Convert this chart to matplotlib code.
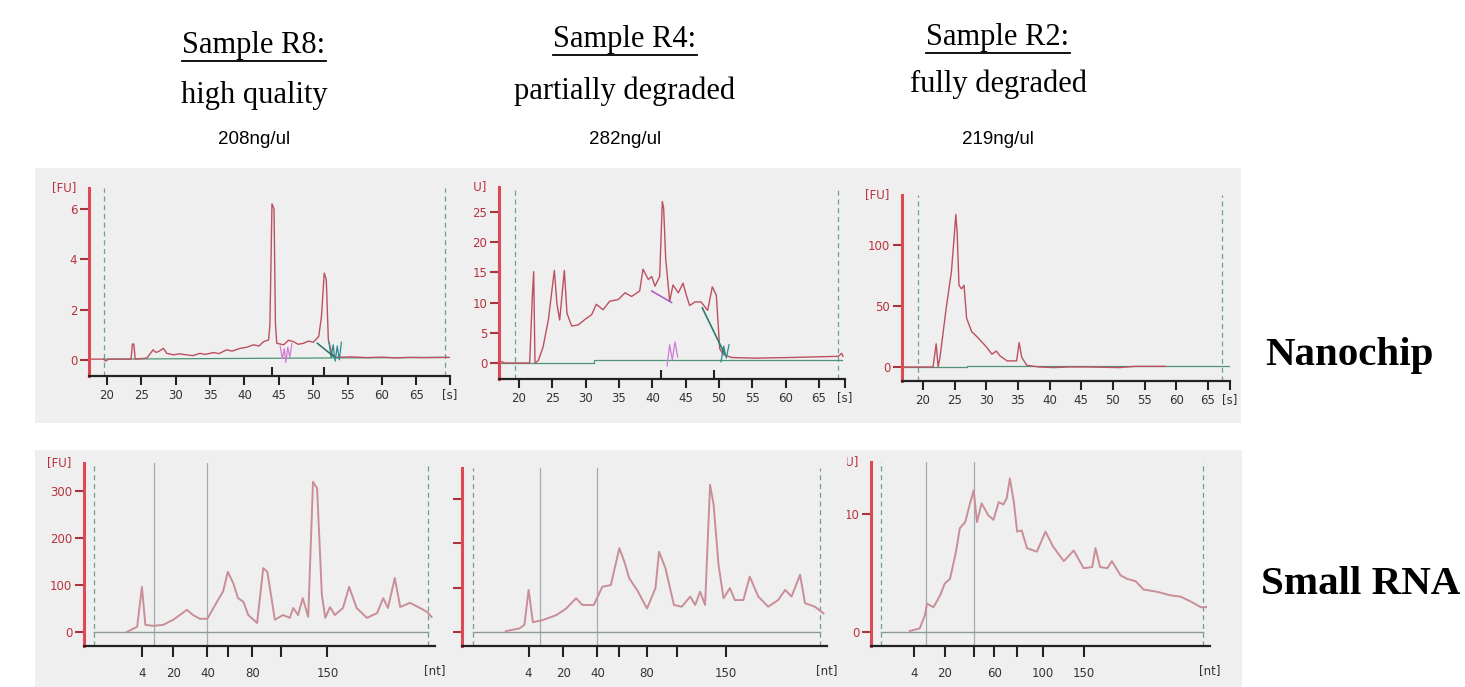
import matplotlib.pyplot as plt
from matplotlib.lines import Line2D

W, H = 1465, 687

# ---------------- data ----------------
samples = ["Sample R8:", "Sample R4:", "Sample R2:"]
quality = ["high quality", "partially degraded", "fully degraded"]
conc = ["208ng/ul", "282ng/ul", "219ng/ul"]
rows = ["Nanochip", "Small RNA"]

# Nanochip traces: migration time [s] vs fluorescence [FU]
r8_nano_t = [17.4, 19.5, 19.8, 20.2, 23.5, 23.7, 23.9, 24.1, 25.8, 26.7, 27.1, 27.5, 28.2, 28.7,
             29.7, 30.5, 31.6, 32.5, 33.5, 34.3, 35.5, 36.3, 37.4, 38.2, 39.4, 40.3, 41.3, 42.1,
             42.8, 43.5, 43.7, 44.0, 44.3, 44.5, 44.7, 45.7, 46.4, 47.1, 47.8, 48.6, 49.3, 50.0,
             50.8, 51.2, 51.6, 51.9, 52.2, 52.7, 53.2, 55.5, 57.8, 60.0, 62.0, 64.0, 66.0, 69.8]
r8_nano_fu = [0.03, 0.03, -0.05, 0.03, 0.03, 0.63, 0.63, 0.03, 0.07, 0.40, 0.30, 0.33, 0.46, 0.26,
              0.20, 0.24, 0.20, 0.17, 0.26, 0.22, 0.29, 0.25, 0.40, 0.35, 0.46, 0.50, 0.60, 0.55,
              0.73, 0.79, 1.39, 6.20, 6.00, 1.45, 0.66, 0.60, 0.78, 0.73, 0.62, 0.66, 0.75, 0.70,
              0.93, 1.72, 3.45, 3.20, 0.80, 0.26, 0.10, 0.12, 0.09, 0.11, 0.08, 0.10, 0.09, 0.10]

r4_nano_t = [17.4, 17.9, 21.6, 22.0, 22.2, 22.4, 22.9, 23.6, 24.4, 25.3, 25.7, 26.1, 26.8, 27.2,
             27.9, 28.9, 29.9, 30.9, 31.6, 32.6, 33.6, 34.9, 35.9, 36.9, 38.1, 38.6, 39.4, 39.9,
             40.4, 41.1, 41.5, 41.7, 42.0, 42.6, 43.1, 43.9, 44.6, 45.1, 45.6, 46.4, 47.3, 48.3,
             49.0, 49.6, 50.1, 50.6, 51.9, 55.4, 60.4, 67.9, 68.4, 68.6]
r4_nano_fu = [0.2, 0.0, 0.0, 11.0, 15.1, 0.0, 0.4, 2.6, 7.1, 15.3, 9.7, 7.1, 15.3, 8.2,
              6.1, 6.3, 7.2, 8.0, 9.7, 8.8, 10.2, 10.5, 11.6, 11.0, 11.9, 15.5, 13.8, 14.3,
              12.7, 14.3, 26.7, 25.6, 17.3, 10.2, 12.9, 11.6, 13.2, 11.2, 9.5, 10.1, 10.1, 8.7,
              12.6, 11.2, 2.4, 1.4, 0.9, 0.8, 0.9, 1.1, 1.6, 1.1]

r2_nano_t = [16.9, 21.6, 22.1, 22.4, 22.7, 23.7, 24.5, 24.9, 25.2, 25.4, 25.7, 26.1, 26.5, 26.9,
             27.7, 28.7, 30.1, 30.9, 31.6, 32.2, 33.3, 34.8, 35.2, 35.6, 36.4, 38.3, 40.6, 43.2,
             45.8, 51.0, 53.6, 58.3]
r2_nano_fu = [0.0, 0.0, 19.0, 0.0, 8.0, 49.0, 78.0, 104.0, 125.0, 111.0, 67.0, 64.0, 67.0, 40.0,
              29.0, 24.0, 16.0, 10.5, 13.0, 9.0, 5.0, 5.0, 20.0, 8.0, 1.4, 0.0, -0.5, 0.0,
              0.0, -0.5, 0.5, 0.5]

# Small RNA traces: migration time [s] vs fluorescence [FU]
r8_srna_t = [23.8, 25.3, 26.0, 26.5, 27.7, 29.1, 30.6, 32.6, 33.5, 34.5, 35.6, 37.0, 37.9, 38.6,
             39.4, 40.1, 40.9, 41.6, 42.9, 43.8, 44.4, 45.1, 45.5, 46.7, 47.7, 48.2, 48.9, 49.6,
             50.4, 51.1, 51.7, 52.4, 52.9, 53.6, 54.3, 55.5, 56.4, 57.5, 59.0, 60.5, 61.4, 62.1,
             63.1, 63.9, 65.3, 66.8, 67.8, 68.5]
r8_srna_fu = [0, 11, 96, 15, 13, 15, 26, 47, 36, 28, 28, 64, 86, 128,
              104, 72, 64, 36, 19, 136, 128, 64, 26, 36, 30, 51, 36, 72,
              32, 320, 306, 79, 30, 53, 36, 51, 96, 51, 30, 40, 72, 51,
              115, 53, 62, 51, 43, 32]

r4_srna_t = [23.7, 25.6, 26.3, 26.9, 27.5, 28.9, 30.8, 32.2, 33.6, 34.5, 36.1, 37.3, 38.5, 39.7,
             40.4, 41.1, 42.2, 43.6, 44.8, 45.3, 46.2, 47.4, 48.5, 49.7, 50.4, 51.1, 51.8, 52.5,
             53.0, 53.7, 54.4, 55.3, 56.0, 57.2, 58.1, 59.3, 60.7, 62.1, 63.1, 64.0, 65.2, 65.9,
             67.3, 68.5]
r4_srna_fu = [2, 8, 16, 95, 22, 27, 38, 53, 76, 61, 61, 102, 106, 189,
              159, 121, 95, 53, 99, 181, 144, 61, 57, 80, 61, 91, 61, 332,
              287, 151, 76, 99, 72, 72, 125, 80, 57, 72, 95, 80, 129, 65,
              57, 42]

r2_srna_t = [23.4, 24.9, 25.7, 26.0, 27.0, 28.0, 28.7, 29.5, 30.3, 30.5, 31.0, 31.8, 32.5, 33.1,
             33.6, 34.3, 35.3, 36.1, 36.9, 37.6, 38.1, 38.6, 39.2, 39.7, 40.4, 41.2, 42.7, 44.0,
             45.2, 46.8, 48.3, 49.8, 51.1, 51.6, 52.3, 53.4, 54.1, 55.4, 56.4, 57.7, 58.9, 61.0,
             63.0, 64.5, 66.0, 67.6, 68.4]
r2_srna_fu = [0.08, 0.3, 1.44, 2.4, 2.1, 3.1, 4.1, 4.5, 6.5, 7.1, 8.8, 9.3, 10.8, 12.0,
              9.3, 10.9, 9.9, 9.5, 11.0, 10.8, 11.3, 13.0, 11.0, 8.5, 8.6, 7.1, 6.8, 8.5,
              7.2, 6.0, 6.9, 5.4, 5.5, 7.1, 5.5, 5.4, 6.0, 4.8, 4.5, 4.3, 3.6, 3.4,
              3.1, 3.0, 2.6, 2.1, 2.1]

# baselines and peak-region markers of the Bioanalyzer software
r8_base_t, r8_base_fu = [19.5, 69.5], [0.03, 0.10]
r4_base_t, r4_base_fu = [17.2, 31.2, 31.2, 68.5], [0.0, 0.0, 0.5, 0.5]
r2_base_t, r2_base_fu = [17.0, 27.0, 27.0, 68.5], [0.0, 0.0, 1.0, 1.0]
r8_mark_a_t = [45.2, 45.5, 45.8, 46.0, 46.3, 46.6, 46.9]
r8_mark_a_fu = [0.55, 0.05, 0.45, -0.1, 0.5, 0.1, 0.65]
r8_mark_b_t = [52.3, 52.6, 52.9, 53.2, 53.5, 53.8, 54.1]
r8_mark_b_fu = [0.7, 0.1, 0.6, -0.05, 0.55, 0.0, 0.7]
r8_slope_t, r8_slope_fu = [50.6, 53.0], [0.66, 0.13]
r8_peaks = [44.0, 51.5]
r4_mark_a_t = [42.2, 42.6, 43.0, 43.4, 43.8]
r4_mark_a_fu = [-0.5, 3.0, 0.5, 3.5, 1.0]
r4_mark_b_t = [50.3, 50.7, 51.1, 51.5]
r4_mark_b_fu = [0.2, 2.8, 0.8, 3.0]
r4_slope1_t, r4_slope1_fu = [39.9, 42.9], [11.9, 10.0]
r4_slope2_t, r4_slope2_fu = [47.5, 50.8], [9.1, 1.6]
r4_peaks = [41.3, 49.3]

# axis ticks
nano_ticks = [20, 25, 30, 35, 40, 45, 50, 55, 60, 65]
nt_labels = ["4", "20", "40", "", "80", "", "150"]
r8_nt_pos = [26.0, 30.6, 35.6, 38.6, 42.2, 46.4, 53.2]
r4_nt_pos = [26.9, 31.8, 36.6, 39.7, 43.6, 47.8, 54.7]
r2_nt_labels = ["4", "20", "", "60", "", "100", "150"]
r2_nt_pos = [24.0, 28.7, 33.1, 36.2, 39.7, 43.6, 49.8]

# ---------------- drawing ----------------
RED = "#dd4a56"
LBLRED = "#b8323c"
BG = "#efefef"

fig = plt.figure(figsize=(W / 100, H / 100), dpi=100)


def px_axes(x0, y0, x1, y1):
    return fig.add_axes([x0 / W, 1 - y1 / H, (x1 - x0) / W, (y1 - y0) / H])


def frame(x0, y0, x1, y1):
    f = px_axes(x0, y0, x1, y1)
    f.set_facecolor(BG)
    f.set_xticks([])
    f.set_yticks([])
    for s in f.spines.values():
        s.set_visible(False)
    f.set_zorder(0)
    return f


def panel(box, fbox, xlim, ylim, yticks, ylabels, xticks, xlabels, end_lbl, bottom_row):
    fr = frame(*fbox)
    ax = px_axes(*box)
    ax.set_zorder(1)
    ax.patch.set_visible(False)
    ax.set_xlim(*xlim)
    ax.set_ylim(*ylim)
    for s in ["top", "right"]:
        ax.spines[s].set_visible(False)
    ax.spines["left"].set_color(RED)
    ax.spines["left"].set_linewidth(2.2)
    ax.spines["bottom"].set_color("#222222")
    ax.spines["bottom"].set_linewidth(1.6)
    ax.set_yticks(yticks)
    ax.set_yticklabels(ylabels)
    ax.set_xticks(xticks)
    ax.set_xticklabels(xlabels)
    ax.tick_params(axis="y", length=6.5, width=1.5, color="#a8343c", labelcolor=LBLRED,
                   labelsize=8.5, pad=2)
    ax.tick_params(axis="x", length=8 if bottom_row else 6.5, width=1.5, color="#222222",
                   labelcolor="#333333", labelsize=8.5, pad=7 if bottom_row else 3)
    # the screenshots overlap, so text is cut at the panel edge
    for lab in ax.get_xticklabels() + ax.get_yticklabels():
        lab.set_clip_box(fr.bbox)
        lab.set_clip_on(True)
    yl = ax.annotate("[FU]", xy=(0, 1), xycoords="axes fraction", xytext=(-9, 0),
                     textcoords="offset points", ha="right", va="center", fontsize=8.5,
                     color=LBLRED)
    yl.set_clip_box(fr.bbox)
    yl.set_clip_on(True)
    ax.annotate(end_lbl, xy=(1, 0), xycoords="axes fraction",
                xytext=(0, -13 if bottom_row else -8.5), textcoords="offset points",
                ha="center", va="top", fontsize=8.5, color="#333333")
    return ax


# top row: nanochip
nano = [
    dict(box=(89, 188, 450, 376), fbox=(35, 168, 474, 423), xlim=(17.38, 69.9), ylim=(-0.64, 6.83),
         yt=[0, 2, 4, 6], dash=(19.6, 69.1), t=r8_nano_t, fu=r8_nano_fu,
         base=(r8_base_t, r8_base_fu)),
    dict(box=(499, 187, 845, 379), fbox=(474, 168, 846, 423), xlim=(17.0, 68.9), ylim=(-2.65, 29.1),
         yt=[0, 5, 10, 15, 20, 25], dash=(19.4, 67.8), t=r4_nano_t, fu=r4_nano_fu,
         base=(r4_base_t, r4_base_fu)),
    dict(box=(902, 195, 1230, 381), fbox=(846, 168, 1241, 423), xlim=(16.7, 68.5), ylim=(-11.5, 141),
         yt=[0, 50, 100], dash=(19.2, 67.2), t=r2_nano_t, fu=r2_nano_fu,
         base=(r2_base_t, r2_base_fu)),
]
nano_axes = []
for p in nano:
    ax = panel(p["box"], p["fbox"], p["xlim"], p["ylim"], p["yt"], [str(v) for v in p["yt"]],
               nano_ticks + [p["xlim"][1]], [str(v) for v in nano_ticks] + [""], "[s]", False)
    for d in p["dash"]:
        ax.axvline(d, color="#6f9f92", lw=0.9, ls=(0, (4, 3)))
    ax.plot(*p["base"], color="#4f9477", lw=0.9)
    ax.plot(p["t"], p["fu"], color="#bd5060", lw=1.0)
    nano_axes.append(ax)

ax1, ax2, ax3 = nano_axes
ax1.plot(r8_mark_a_t, r8_mark_a_fu, color="#d27ad6", lw=0.9)
ax1.plot(r8_mark_b_t, r8_mark_b_fu, color="#2c8c90", lw=0.9)
ax1.plot(r8_slope_t, r8_slope_fu, color="#2b6f5f", lw=1.1)
ax1.vlines(r8_peaks, -0.64, -0.28, color="#222222", lw=1.5)
ax2.plot(r4_mark_a_t, r4_mark_a_fu, color="#d27ad6", lw=0.9)
ax2.plot(r4_mark_b_t, r4_mark_b_fu, color="#2c8c90", lw=0.9)
ax2.plot(r4_slope1_t, r4_slope1_fu, color="#b054c0", lw=1.1)
ax2.plot(r4_slope2_t, r4_slope2_fu, color="#2b7f6a", lw=1.2)
ax2.vlines(r4_peaks, -2.65, -1.2, color="#222222", lw=1.5)

# bottom row: small RNA
srna = [
    dict(box=(84, 463, 435, 646), fbox=(35, 450, 452, 687), ylim=(-30, 360),
         yt=[0, 100, 200, 300], ytl=["0", "100", "200", "300"],
         xt=r8_nt_pos, xl=nt_labels, gray=(27.7, 35.6), t=r8_srna_t, fu=r8_srna_fu),
    dict(box=(462, 468, 827, 646), fbox=(452, 450, 847, 687), ylim=(-31.6, 370),
         yt=[0, 100, 200, 300], ytl=["0", "100", "200", "300"],
         xt=r4_nt_pos, xl=nt_labels, gray=(28.55, 36.56), t=r4_srna_t, fu=r4_srna_fu),
    dict(box=(871, 462, 1210, 646), fbox=(847, 450, 1242, 687), ylim=(-1.19, 14.4),
         yt=[0, 10], ytl=["0", "10"],
         xt=r2_nt_pos, xl=r2_nt_labels, gray=(25.8, 33.2), t=r2_srna_t, fu=r2_srna_fu),
]
for p in srna:
    ax = panel(p["box"], p["fbox"], (17.5, 69.0), p["ylim"], p["yt"], p["ytl"],
               p["xt"], p["xl"], "[nt]", True)
    for d in (19, 68):
        ax.axvline(d, color="#6f9f92", lw=0.9, ls=(0, (4, 3)))
    for g in p["gray"]:
        ax.axvline(g, color="#a6abab", lw=0.9)
    ax.plot([19, 68], [0, 0], color="#8e9a92", lw=1.0)
    ax.plot(p["t"], p["fu"], color="#c98e97", lw=1.4)

# titles
ttl_x = [254, 625, 998]
ttl_y1 = [45, 40, 37]
ttl_y2 = [95, 91, 84]
title_texts = []
for i in range(3):
    t = fig.text(ttl_x[i] / W, 1 - ttl_y1[i] / H, samples[i], ha="center", va="center",
                 fontsize=22, family="Liberation Serif")
    title_texts.append(t)
    fig.text(ttl_x[i] / W, 1 - ttl_y2[i] / H, quality[i], ha="center", va="center",
             fontsize=22, family="Liberation Serif")
    fig.text(ttl_x[i] / W, 1 - 140 / H, conc[i], ha="center", va="center",
             fontsize=13.5, family=["Liberation Sans Narrow", "Liberation Sans"])

fig.text(1265 / W, 1 - 356 / H, rows[0], ha="left", va="center", fontsize=29.5,
         fontweight="bold", family="Liberation Serif")
fig.text(1261 / W, 1 - 584 / H, rows[1], ha="left", va="center", fontsize=29.5,
         fontweight="bold", family="Liberation Serif")

# underline the sample names
fig.canvas.draw()
rend = fig.canvas.get_renderer()
inv = fig.transFigure.inverted()
for t in title_texts:
    bb = t.get_window_extent(rend)
    (x0, y0), (x1, _) = inv.transform([(bb.x0, bb.y0 - 1), (bb.x1, bb.y0 - 1)])
    fig.add_artist(Line2D([x0, x1], [y0, y0], transform=fig.transFigure, color="black", lw=1.3))

fig.savefig("out.png", dpi=100)
